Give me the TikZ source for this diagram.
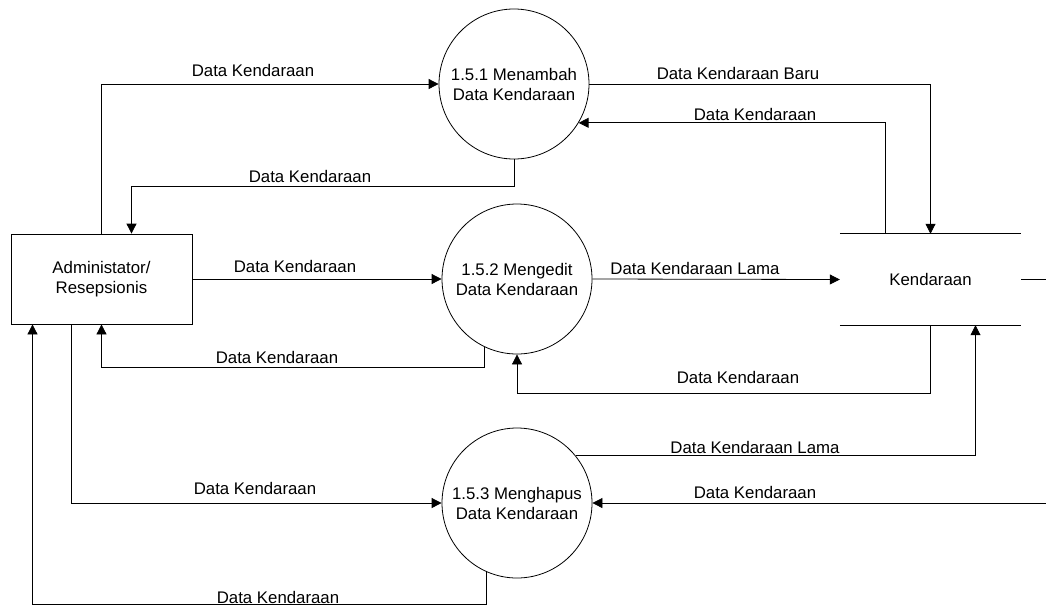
\documentclass[tikz,border=0pt]{standalone}
\usepackage{fontspec}
\setmainfont{Liberation Sans}
\usetikzlibrary{arrows.meta,calc}
\begin{document}
\begin{tikzpicture}[x=1pt,y=-1pt,
  every node/.style={font=\fontsize{16.8}{20}\selectfont},
  line/.style={draw=black,line width=0.8pt},
  flow/.style={line,-{Triangle[length=10pt,width=10pt]}},
  proc/.style={circle,draw,line width=0.8pt,minimum size=150pt,inner sep=0pt,align=center},
  ent/.style={rectangle,draw,line width=0.8pt,minimum width=181pt,minimum height=90pt,align=center},
  datastore/.style={minimum width=181pt,minimum height=91pt,inner sep=0pt},
  lbl/.style={inner sep=0pt,text height=12pt,text depth=0pt}]
\useasboundingbox (0,0) rectangle (1046,606);

% external entity, processes and data store
\node[ent]  (admin) at (101.5,279) {Administator/\\Resepsionis};
\node[proc] (p1) at (514,84)  {1.5.1 Menambah\\Data Kendaraan};
\node[proc] (p2) at (517,279) {1.5.2 Mengedit\\Data Kendaraan};
\node[proc] (p3) at (517,503) {1.5.3 Menghapus\\Data Kendaraan};
\node[datastore] (ds) at (930.5,279.5) {Kendaraan};
\coordinate (east1) at (1046,279.5);
\coordinate (east2) at (1046,503);

% open-ended data store outline
\draw[line] (ds.north west) -- (ds.north east);
\draw[line] (ds.south west) -- (ds.south east);
\draw[line] (ds.east) -- (east1);

% data flows
\draw[flow] (admin.north) |- (p1.west);
\draw[flow] (p1.south) -- ++(0,27) -| ($(admin.north)+(30,0)$);
\draw[flow] (p1.east) -| (ds.north);
\draw[flow] ($(ds.north)+(-45,0)$) |- (p1.-31);
\draw[flow] (admin.east) -- (p2.west);
\draw[flow] (p2.east) -- (ds.west);
\draw[flow] (p2.244) -- ++(0,21) -| (admin.south);
\draw[flow] (ds.south) -- ++(0,68) -| (p2.south);
\draw[flow] (p3.39) -| ($(ds.south)+(45,0)$);
\draw[flow] ($(admin.south)+(-30,0)$) |- (p3.west);
\draw[flow] (east2) -- (p3.east);
\draw[flow] (p3.246) -- ++(0,33) -| ($(admin.south)+(-69,0)$);

% flow labels
\node[lbl] (l1)  at (253,70)  {Data Kendaraan};
\node[lbl] (l2)  at (310,176) {Data Kendaraan};
\node[lbl] (l3)  at (738,73)  {Data Kendaraan Baru};
\node[lbl] (l4)  at (755,114) {Data Kendaraan};
\node[lbl] (l5)  at (295,266) {Data Kendaraan};
\node[lbl] (l6)  at (695,268) {Data Kendaraan Lama};
\node[lbl] (l7)  at (277,357) {Data Kendaraan};
\node[lbl] (l8)  at (738,377) {Data Kendaraan};
\node[lbl] (l9)  at (755,447) {Data Kendaraan Lama};
\node[lbl] (l10) at (255,488) {Data Kendaraan};
\node[lbl] (l11) at (755,492) {Data Kendaraan};
\node[lbl] (l12) at (278,597) {Data Kendaraan};
\end{tikzpicture}
\end{document}
